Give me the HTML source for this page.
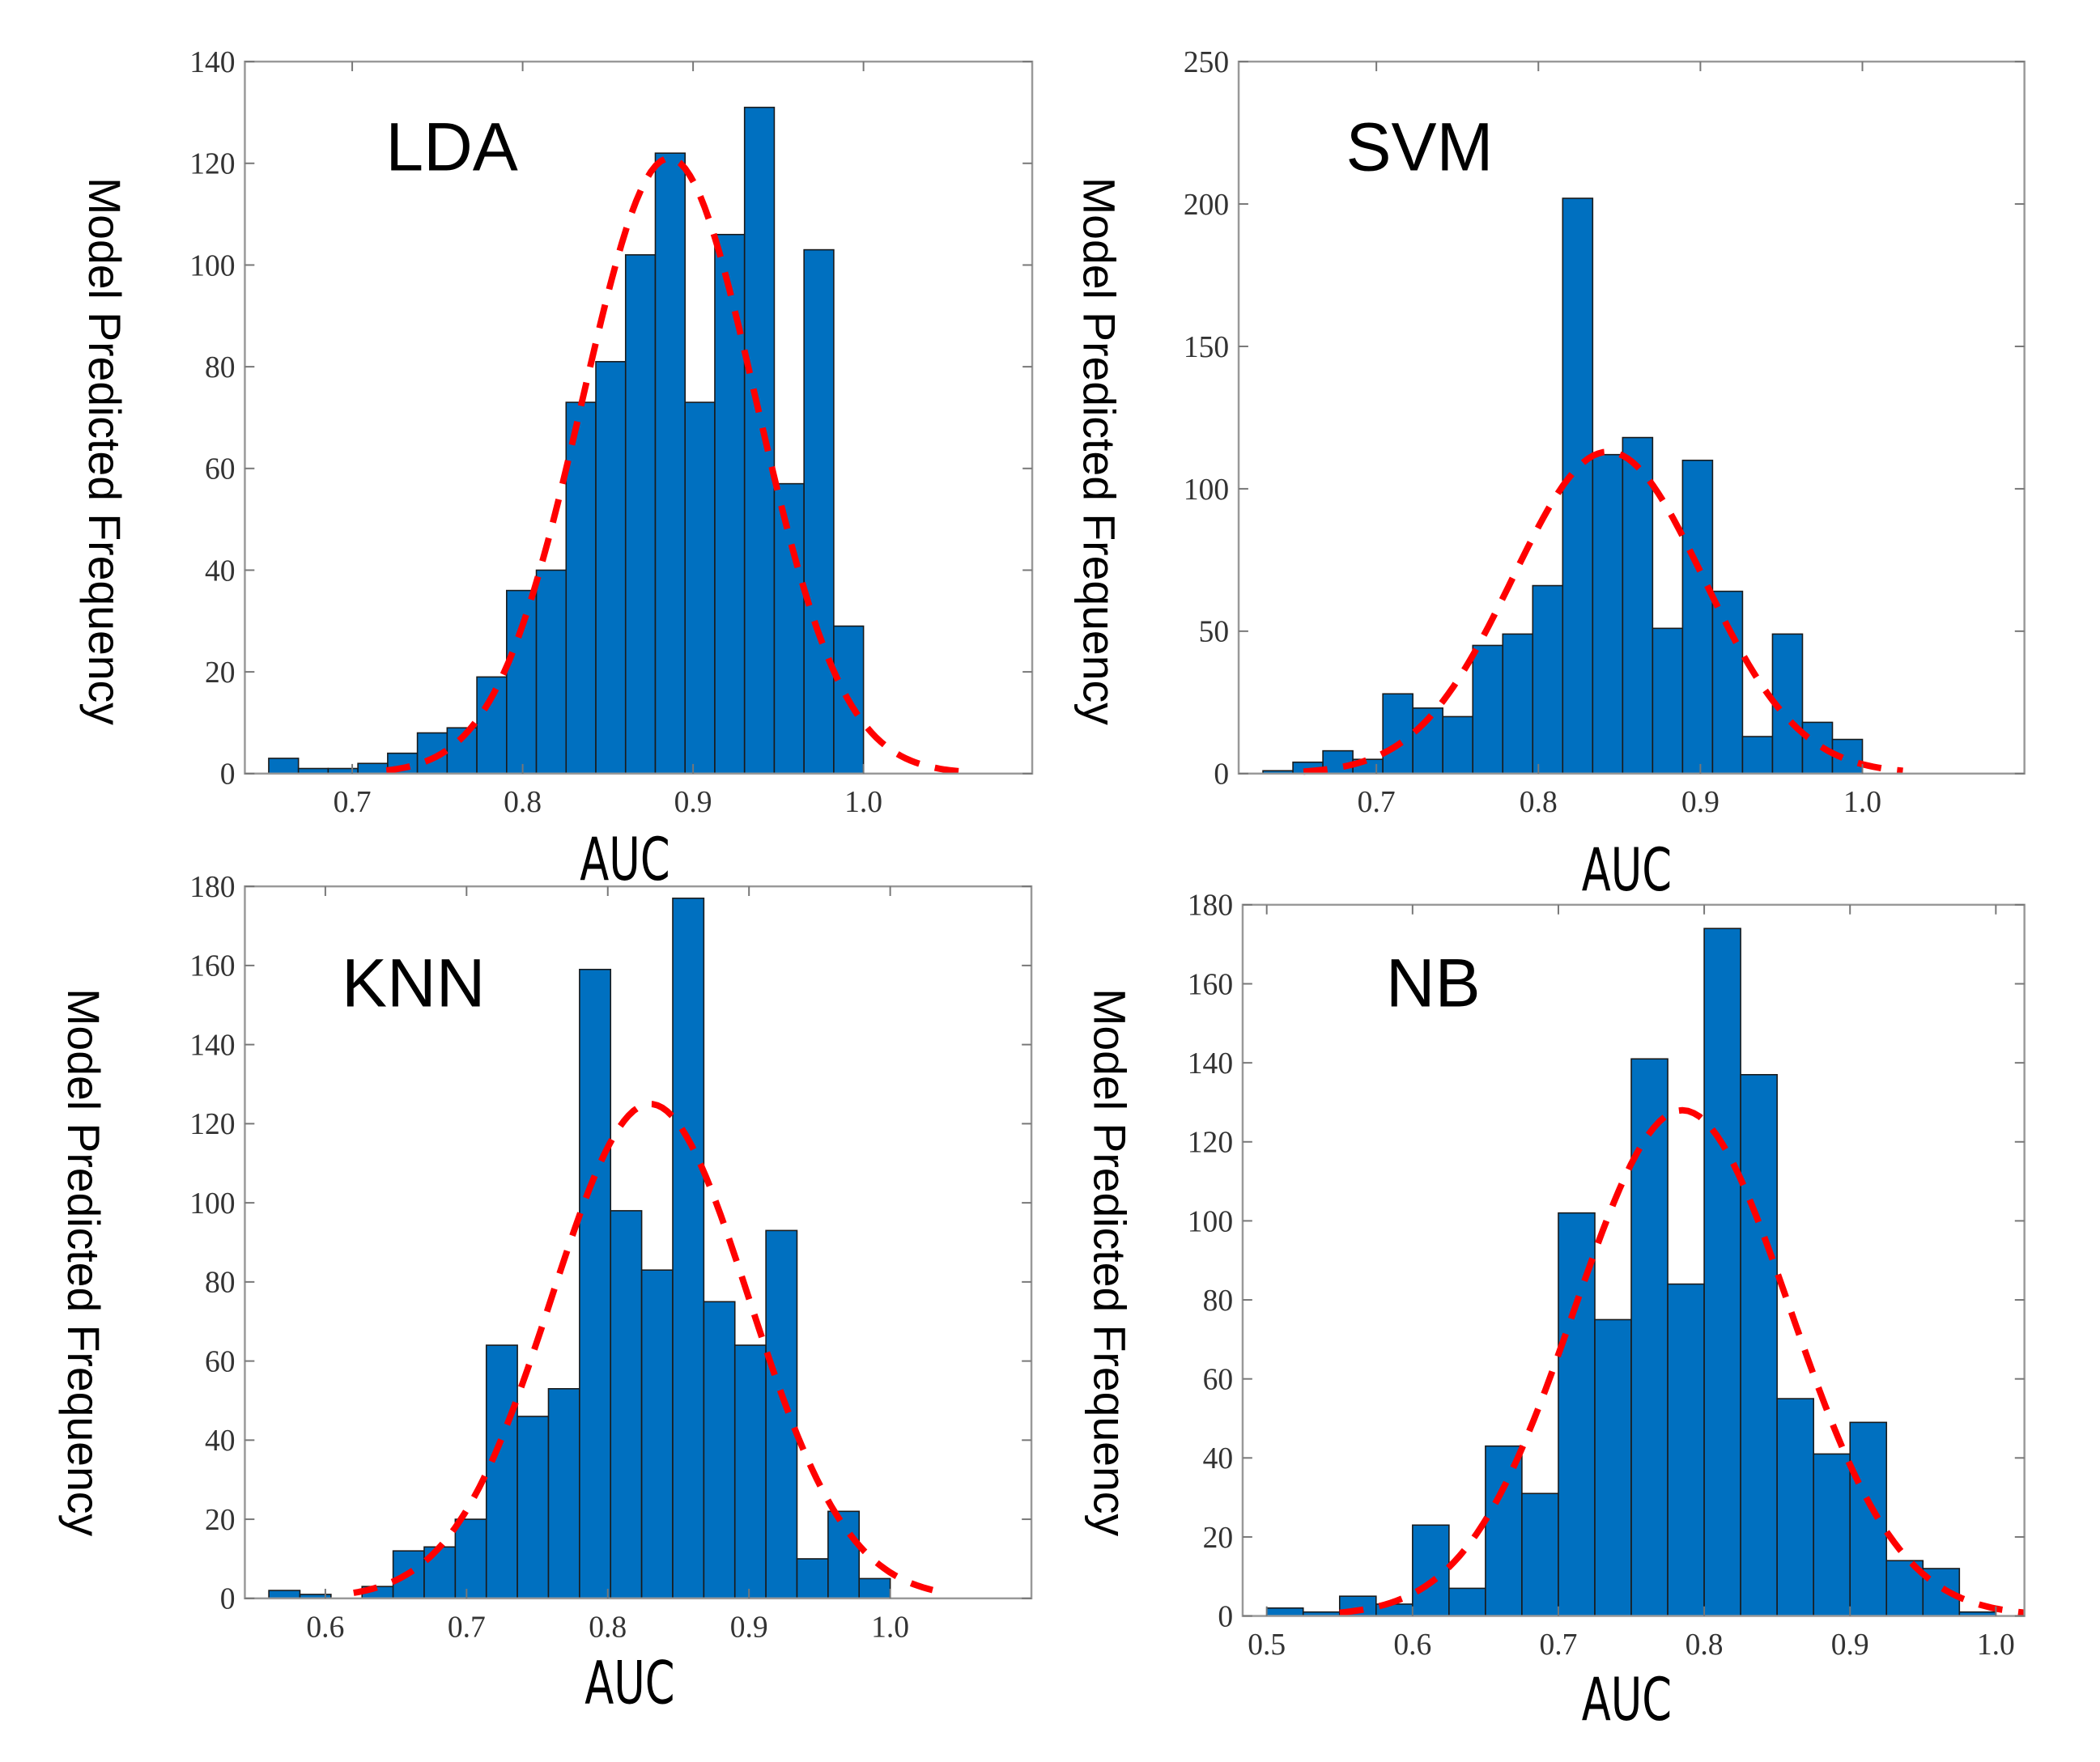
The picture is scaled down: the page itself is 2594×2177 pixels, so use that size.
<!DOCTYPE html>
<html><head><meta charset="utf-8"><style>
html,body{margin:0;padding:0;background:#fff;}
svg{display:block;}
.tick{font-family:"Liberation Serif",serif;font-size:38px;fill:#333;}
.ttl{font-family:"Liberation Sans",sans-serif;font-size:85px;fill:#000;}
.yl{font-family:"Liberation Sans",sans-serif;font-size:56px;fill:#000;}
.xl{font-family:"DejaVu Sans Condensed","DejaVu Sans",sans-serif;font-size:74px;fill:#000;}
</style></head><body>
<svg id="fig" width="2594" height="2177" viewBox="0 0 2594 2177" xmlns="http://www.w3.org/2000/svg"><g id="root" transform="scale(0.9884)"></g></svg>
<script>
// LDA
const ldaCounts = [3,1,1,2,4,8,9,19,36,40,73,81,102,122,73,106,131,57,103,29];
const ldaBinRange = [0.651, 1.0];
const ldaXTicks = ['0.7','0.8','0.9','1.0'];
const ldaYTicks = ['0','20','40','60','80','100','120','140'];
const ldaFit = [0.886, 0.051, 121, 0.72, 1.065];
// SVM
const svmCounts = [1,4,8,5,28,23,20,45,49,66,202,112,118,51,110,64,13,49,18,12];
const svmBinRange = [0.63, 1.0];
const svmXTicks = ['0.7','0.8','0.9','1.0'];
const svmYTicks = ['0','50','100','150','200','250'];
const svmFit = [0.843, 0.059, 113, 0.655, 1.025];
// KNN
const knnCounts = [2,1,0,3,12,13,20,64,46,53,159,98,83,177,75,64,93,10,22,5];
const knnBinRange = [0.56, 1.0];
const knnXTicks = ['0.6','0.7','0.8','0.9','1.0'];
const knnYTicks = ['0','20','40','60','80','100','120','140','160','180'];
const knnFit = [0.83, 0.07, 125, 0.62, 1.03];
// NB
const nbCounts = [2,1,5,3,23,7,43,31,102,75,141,84,174,137,55,41,49,14,12,1];
const nbBinRange = [0.5, 1.0];
const nbXTicks = ['0.5','0.6','0.7','0.8','0.9','1.0'];
const nbYTicks = ['0','20','40','60','80','100','120','140','160','180'];
const nbFit = [0.785, 0.074, 128, 0.55, 1.02];

const NS='http://www.w3.org/2000/svg';
const fig=document.getElementById('root');
function mk(tag,attrs,parent){const e=document.createElementNS(NS,tag);for(const k in attrs)e.setAttribute(k,attrs[k]);(parent||fig).appendChild(e);return e;}

const panels=[
 {id:'lda',title:'LDA',counts:ldaCounts,bins:ldaBinRange,xt:ldaXTicks,yt:ldaYTicks,fit:ldaFit,L:306,R:1290,T:77,B:967,x0:0.637,x1:1.099,ylx:126,yly:564,tx:482,ty:213,ax:781,ay:1100},
 {id:'svm',title:'SVM',counts:svmCounts,bins:svmBinRange,xt:svmXTicks,yt:svmYTicks,fit:svmFit,L:1548,R:2530,T:77,B:967,x0:0.615,x1:1.1,ylx:1369,yly:564,tx:1682,ty:213,ax:2033,ay:1113},
 {id:'knn',title:'KNN',counts:knnCounts,bins:knnBinRange,xt:knnXTicks,yt:knnYTicks,fit:knnFit,L:306,R:1289,T:1108,B:1998,x0:0.543,x1:1.1,ylx:100,yly:1578,tx:427,ty:1258,ax:787,ay:2129},
 {id:'nb',title:'NB',counts:nbCounts,bins:nbBinRange,xt:nbXTicks,yt:nbYTicks,fit:nbFit,L:1553,R:2530,T:1131,B:2020,x0:0.4835,x1:1.0196,ylx:1382,yly:1578,tx:1732,ty:1258,ax:2033,ay:2150}
];

panels.forEach(p=>{
  const g=mk('g',{});
  
  
  const ymax=parseFloat(p.yt[p.yt.length-1]);
  const sx=v=>p.L+(v-p.x0)/(p.x1-p.x0)*(p.R-p.L);
  const sy=v=>p.B-v/ymax*(p.B-p.T);
  const n=p.counts.length, w=(p.bins[1]-p.bins[0])/n;
  p.counts.forEach((c,i)=>{
    if(c<=0)return;
    const xa=sx(p.bins[0]+i*w), xb=sx(p.bins[0]+(i+1)*w);
    const r=mk('rect',{x:xa,y:sy(c),width:xb-xa,height:p.B-sy(c),fill:'#0070C0',stroke:'#1a1a1a','stroke-width':1.6},g);
    
    
  });
  const [mu,sd,pk,a,b]=p.fit;
  let d='';
  for(let k=0;k<=120;k++){const x=a+(b-a)*k/120;const y=pk*Math.exp(-0.5*((x-mu)/sd)**2);d+=(k?'L':'M')+sx(x).toFixed(1)+','+sy(y).toFixed(1);}
  const c=mk('path',{d:d,fill:'none',stroke:'#FF0000','stroke-width':8,'stroke-dasharray':'30,20'},g);
  
  
  const box=mk('rect',{x:p.L,y:p.T,width:p.R-p.L,height:p.B-p.T,fill:'none',stroke:'#999','stroke-width':2.5},g);
  
  
  p.yt.forEach(t=>{
    const y=sy(parseFloat(t));
    mk('line',{x1:p.L,x2:p.L+12,y1:y,y2:y,stroke:'#777','stroke-width':2},g);
    mk('line',{x1:p.R,x2:p.R-12,y1:y,y2:y,stroke:'#777','stroke-width':2},g);
    const tx=mk('text',{x:p.L-12,y:y+13,'text-anchor':'end',class:'tick'},g);
    tx.textContent=t;
    
    
  });
  p.xt.forEach(t=>{
    const x=sx(parseFloat(t));
    mk('line',{x1:x,x2:x,y1:p.B,y2:p.B-12,stroke:'#777','stroke-width':2},g);
    mk('line',{x1:x,x2:x,y1:p.T,y2:p.T+12,stroke:'#777','stroke-width':2},g);
    const tx=mk('text',{x:x,y:p.B+48,'text-anchor':'middle',class:'tick'},g);
    tx.textContent=t;
    
    
  });
  const ti=mk('text',{x:p.tx,y:p.ty,class:'ttl'},g);
  ti.textContent=p.title;
  
  
  const yl=mk('text',{x:p.ylx,y:p.yly,class:'yl','text-anchor':'middle',transform:'rotate(90 '+p.ylx+' '+p.yly+')','dominant-baseline':'middle'},g);
  yl.textContent='Model Predicted Frequency';
  
  
  const xl=mk('text',{x:0,y:0,class:'xl','text-anchor':'middle',transform:'translate('+p.ax+' '+p.ay+') scale(0.8 1)'},g);
  xl.textContent='AUC';
  
  
});
</script>
</body></html>
